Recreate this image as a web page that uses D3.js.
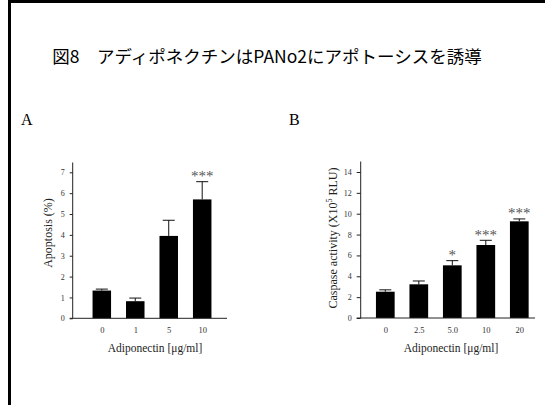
<!DOCTYPE html>
<html><head><meta charset="utf-8">
<script src="https://cdn.jsdelivr.net/npm/d3@7"></script>
<style>
body{margin:0;background:#fff;}
svg{display:block;}
</style></head>
<body>
<svg id="c" width="545" height="405"></svg>
<script>
const title = "図8　アディポネクチンはPANo2にアポトーシスを誘導";
const catsA = ["0","1","5","10"];
const valsA = [1.33, 0.82, 3.95, 5.7];
const errA  = [0.07, 0.15, 0.75, 0.85];
const sigA  = ["","","","***"];
const ticksA = [0,1,2,3,4,5,6,7];

const catsB = ["0","2.5","5.0","10","20"];
const valsB = [2.52, 3.23, 5.05, 7.0, 9.27];
const errB  = [0.18, 0.32, 0.45, 0.45, 0.23];
const sigB  = ["","","*","***","***"];
const ticksB = [0,2,4,6,8,10,12,14];

const svg = d3.select("#c");
svg.append("rect").attr("width",545).attr("height",405).attr("fill","#fff");
// frame
svg.append("path").attr("d","M9.5,410 V1.5 H560").attr("fill","none").attr("stroke","#000").attr("stroke-width",3);

svg.append("text").attr("x",267).attr("y",63).attr("text-anchor","middle")
  .attr("font-family","'Noto Sans CJK JP', sans-serif").attr("font-size",17.5).attr("fill","#000")
  .text(title);

const serif = "'Liberation Serif', 'DejaVu Serif', serif";
svg.append("text").attr("x",21).attr("y",125).attr("font-family",serif).attr("font-size",16).text("A");
svg.append("text").attr("x",289).attr("y",125).attr("font-family",serif).attr("font-size",16).text("B");

function panel(cfg){
  const g = svg.append("g");
  const y = d3.scaleLinear().domain(cfg.ydom).range([cfg.y0, cfg.y1]);
  const x = d3.scalePoint().domain(cfg.cats).range([cfg.xc0, cfg.xc1]);
  const bw = cfg.bw;
  const data = cfg.cats.map((c,i)=>({c, v:cfg.vals[i], e:cfg.errs[i], s:cfg.sig[i]}));

  // error bars
  const eg = g.append("g").attr("stroke","#111").attr("stroke-width",1);
  eg.selectAll("line.v").data(data).join("line")
    .attr("x1",d=>x(d.c)).attr("x2",d=>x(d.c))
    .attr("y1",d=>y(d.v)).attr("y2",d=>y(d.v+d.e));
  eg.selectAll("line.h").data(data).join("line").attr("class","h")
    .attr("x1",d=>x(d.c)-6).attr("x2",d=>x(d.c)+6)
    .attr("y1",d=>y(d.v+d.e)).attr("y2",d=>y(d.v+d.e));

  g.selectAll("rect.bar").data(data).join("rect").attr("class","bar")
    .attr("x",d=>x(d.c)-bw/2).attr("width",bw)
    .attr("y",d=>y(d.v)).attr("height",d=>y(0)-y(d.v)).attr("fill","#000");

  g.selectAll("text.sig").data(data).join("text").attr("class","sig")
    .attr("x",d=>x(d.c)).attr("y",d=>y(d.v+d.e)-0.5)
    .attr("text-anchor","middle").attr("font-family",serif).attr("font-size",15).attr("fill","#555")
    .text(d=>d.s);

  // y axis
  const ya = g.append("g").attr("transform",`translate(${cfg.ax},0)`)
    .call(d3.axisLeft(y).tickValues(cfg.ticks).tickFormat(d3.format("d")).tickSize(cfg.ts).tickPadding(5).tickSizeOuter(0));
  ya.select(".domain").remove();
  ya.selectAll("line").attr("stroke","#222");
  ya.selectAll("text").attr("font-family",serif).attr("font-size",8).attr("fill","#333");
  g.append("line").attr("x1",cfg.ax).attr("x2",cfg.ax).attr("y1",y(0)).attr("y2",cfg.ytop).attr("stroke","#222");

  // x axis
  const xa = g.append("g").attr("transform",`translate(0,${y(0)})`)
    .call(d3.axisBottom(x).tickSize(0).tickPadding(9));
  xa.select(".domain").remove();
  xa.selectAll("text").attr("font-family",serif).attr("font-size",8.5).attr("fill","#333");
  g.append("line").attr("x1",cfg.ax - cfg.ts).attr("x2",cfg.xend).attr("y1",y(0)).attr("y2",y(0)).attr("stroke","#222");

  g.append("text").attr("x",cfg.xlx).attr("y",352).attr("text-anchor","middle")
    .attr("font-family",serif).attr("font-size",11.5).attr("fill","#222").text("Adiponectin [μg/ml]");

  const yl = g.append("text").attr("transform",`translate(${cfg.ylx},${cfg.yly}) rotate(-90)`)
    .attr("text-anchor","middle").attr("font-family",serif).attr("font-size",12).attr("fill","#222");
  cfg.ylab(yl);
}

panel({cats:catsA, vals:valsA, errs:errA, sig:sigA, ticks:ticksA,
  ydom:[0,7], y0:318.3, y1:172.3, ytop:162.5, xc0:101.8, xc1:202.2, bw:18.5,
  ax:72.7, ts:3, xend:227, xlx:155, ylx:52, yly:233,
  ylab: t=>t.text("Apoptosis (%)")});

panel({cats:catsB, vals:valsB, errs:errB, sig:sigB, ticks:ticksB,
  ydom:[0,14], y0:318, y1:172, ytop:161.5, xc0:385.3, xc1:519.3, bw:18.7,
  ax:360.7, ts:4, xend:535, xlx:451, ylx:337, yly:238,
  ylab: t=>{ t.append("tspan").text("Caspase activity (X10");
             t.append("tspan").attr("font-size",8).attr("dy",-5).text("5");
             t.append("tspan").attr("dy",5).text(" RLU)"); }});
</script>
</body></html>
